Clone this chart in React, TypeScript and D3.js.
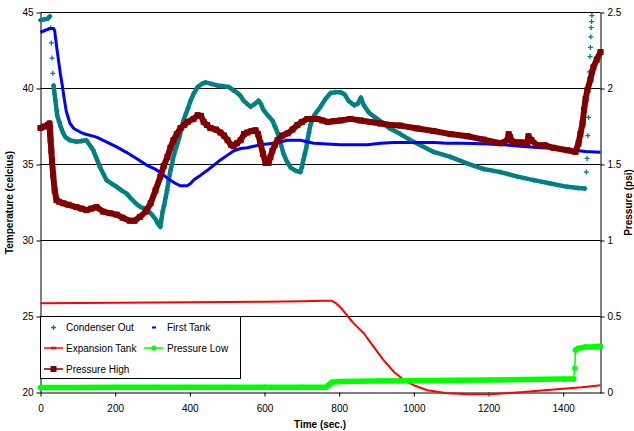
import { useEffect, useRef } from 'react';
import * as d3 from 'd3';

// Condenser Out (celcius) - teal crosses
const condenserTime = [
	0, 10, 20, 25, 27, 29, 31, 33, 35, 38, 40, 43, 45, 50, 54, 61, 67, 78, 96, 110, 123, 134, 141, 150, 159, 168, 177,
	190, 204, 217, 230, 243, 257, 268, 280, 295, 308, 315, 321, 324, 327, 331, 335, 339, 343, 348, 352, 357, 362, 367,
	372, 377, 383, 389, 395, 402, 411, 421, 432, 442, 458, 474, 490, 504, 516, 528, 536, 544, 553, 563, 575, 584, 590,
	597, 610, 621, 628, 635, 643, 651, 660, 670, 683, 696, 700, 704, 708, 712, 715, 719, 723, 735, 750, 763, 777, 790,
	804, 815, 825, 840, 850, 858, 866, 880, 907, 934, 964, 991, 1018, 1053, 1098, 1144, 1187, 1232, 1278, 1321, 1366,
	1411, 1440, 1458, 1462, 1464, 1466, 1468, 1470, 1472, 1473, 1474, 1475, 1476, 1477,
];
const condenserOut = [
	44.5, 44.55, 44.6, 44.75, 44.0, 43.0, 42.0, 41.0, 40.2, 39.6, 39.2, 38.6, 38.2, 37.8, 37.5, 37.05, 36.8, 36.6, 36.5,
	36.55, 36.6, 36.2, 35.95, 35.4, 34.85, 34.4, 33.97, 33.75, 33.53, 33.3, 33.1, 32.75, 32.4, 32.2, 32.1, 31.8, 31.4,
	31.1, 30.9, 31.4, 31.9, 32.3, 32.8, 33.3, 33.9, 34.6, 35.0, 35.6, 36.0, 36.4, 36.8, 37.3, 37.9, 38.3, 38.7, 39.2,
	39.7, 40.1, 40.3, 40.4, 40.3, 40.2, 40.15, 40.1, 39.9, 39.7, 39.5, 39.2, 39.0, 38.8, 39.0, 39.2, 39.0, 38.6, 38.2,
	37.9, 37.5, 37.1, 36.4, 35.7, 35.2, 34.8, 34.6, 34.5, 34.8, 35.3, 35.7, 36.1, 36.6, 37.1, 37.6, 38.3, 38.8, 39.3,
	39.7, 39.75, 39.75, 39.6, 39.2, 38.9, 39.0, 39.4, 38.9, 38.4, 37.9, 37.4, 37.0, 36.6, 36.27, 35.83, 35.5, 35.06, 34.7,
	34.5, 34.2, 33.97, 33.75, 33.53, 33.45, 33.42, 34.5, 35.4, 36.9, 38.1, 41.1, 42.1, 42.7, 43.4, 44.0, 44.4, 44.8,
];

// First Tank (celcius) - blue
const firstTankTime = [
	0, 10, 20, 27, 35, 38, 40, 44, 48, 53, 59, 63, 69, 79, 90, 114, 150, 175, 204, 230, 257, 284, 303, 320, 335, 348,
	362, 375, 393, 402, 411, 429, 446, 464, 482, 500, 518, 536, 554, 571, 589, 607, 625, 643, 661, 680, 696, 714, 732,
	768, 804, 840, 876, 911, 947, 983, 1018, 1054, 1089, 1125, 1161, 1197, 1241, 1286, 1330, 1375, 1411, 1460, 1500,
];
const firstTank = [
	43.7, 43.8, 43.9, 43.95, 43.95, 43.8, 43.4, 42.6, 41.9, 41.0, 40.1, 39.4, 38.5, 37.7, 37.35, 37.04, 36.8, 36.5, 36.16,
	35.8, 35.4, 34.96, 34.75, 34.5, 34.2, 33.97, 33.75, 33.6, 33.6, 33.75, 34.0, 34.3, 34.6, 34.95, 35.3, 35.6, 35.9,
	36.05, 36.1, 36.2, 36.3, 36.35, 36.4, 36.5, 36.6, 36.6, 36.6, 36.5, 36.4, 36.35, 36.3, 36.3, 36.3, 36.4, 36.45, 36.45,
	36.45, 36.45, 36.4, 36.4, 36.38, 36.35, 36.3, 36.2, 36.12, 36.05, 35.98, 35.85, 35.8,
];

// Expansion Tank (celcius) - red
const expansionTime = [
	0, 100, 200, 300, 400, 500, 600, 700, 760, 780, 790, 804, 821, 839, 866, 893, 920, 947, 974, 1000, 1036, 1089, 1152,
	1214, 1286, 1375, 1450, 1500,
];
const expansionTank = [
	25.87, 25.88, 25.9, 25.92, 25.93, 25.95, 25.97, 26.0, 26.03, 26.03, 25.9, 25.6, 25.08, 24.55, 23.9, 22.98, 22.1, 21.35,
	20.8, 20.48, 20.15, 19.95, 19.88, 19.9, 20.02, 20.2, 20.35, 20.48,
];

// Pressure Low (psi) - green
const lowTime = [
	0, 100, 200, 300, 400, 500, 600, 700, 765, 772, 780, 800, 900, 1000, 1100, 1200, 1300, 1400, 1428, 1431, 1433, 1440,
	1460, 1480, 1500,
];
const pressureLow = [
	0.033, 0.033, 0.034, 0.034, 0.034, 0.034, 0.035, 0.035, 0.035, 0.05, 0.068, 0.072, 0.076, 0.078, 0.08, 0.082, 0.085,
	0.088, 0.088, 0.16, 0.28, 0.29, 0.3, 0.3, 0.305,
];

// Pressure High (psi) - dark red squares
const highTime = [
	0, 10, 20, 24, 25, 26, 27, 29, 31, 34, 38, 43, 50, 61, 75, 96, 110, 123, 136, 150, 168, 185, 204, 220, 239, 252, 266,
	282, 295, 308, 321, 330, 340, 348, 356, 365, 375, 385, 394, 410, 421, 430, 437, 446, 455, 470, 482, 492, 501, 510,
	517, 526, 536, 545, 554, 565, 576, 583, 589, 596, 603, 611, 616, 621, 628, 635, 648, 662, 675, 688, 700, 715, 728,
	742, 755, 769, 786, 804, 830, 857, 884, 911, 938, 964, 1010, 1053, 1098, 1144, 1187, 1232, 1251, 1254, 1258, 1264,
	1290, 1304, 1307, 1315, 1331, 1350, 1374, 1411, 1433, 1441, 1446, 1452, 1456, 1460, 1465, 1473, 1481, 1490, 1500,
];
const pressureHigh = [
	1.74, 1.75, 1.76, 1.77, 1.74, 1.7, 1.66, 1.59, 1.52, 1.43, 1.33, 1.265, 1.255, 1.245, 1.235, 1.22, 1.21, 1.2, 1.21,
	1.22, 1.19, 1.18, 1.17, 1.15, 1.13, 1.13, 1.155, 1.19, 1.245, 1.33, 1.42, 1.49, 1.55, 1.61, 1.66, 1.7, 1.74, 1.76,
	1.78, 1.8, 1.825, 1.82, 1.78, 1.76, 1.74, 1.73, 1.71, 1.69, 1.66, 1.63, 1.62, 1.64, 1.66, 1.7, 1.71, 1.72, 1.725, 1.7,
	1.64, 1.57, 1.51, 1.51, 1.55, 1.59, 1.63, 1.66, 1.69, 1.705, 1.73, 1.76, 1.78, 1.8, 1.8, 1.8, 1.79, 1.78, 1.785, 1.79,
	1.8, 1.79, 1.78, 1.77, 1.76, 1.756, 1.737, 1.72, 1.7, 1.686, 1.664, 1.64, 1.66, 1.7, 1.68, 1.65, 1.645, 1.638, 1.686,
	1.66, 1.627, 1.627, 1.61, 1.594, 1.583, 1.638, 1.7, 1.77, 1.86, 1.93, 1.99, 2.06, 2.14, 2.19, 2.24,
];

const tempTicks = [20, 25, 30, 35, 40, 45];
const pressureTicks = [0, 0.5, 1, 1.5, 2, 2.5];
const timeTicks = [0, 200, 400, 600, 800, 1000, 1200, 1400];

const FONT = "'Liberation Sans', Arial, sans-serif";

type Pt = [number, number];

const App = () => {
	const ref = useRef<SVGSVGElement>(null);

	useEffect(() => {
		const width = 634,
			height = 431;
		const svg = d3.select(ref.current).attr('width', width).attr('height', height);
		svg.selectAll('*').remove();

		const x = d3.scaleLinear().domain([0, 1500]).range([40.5, 600.5]);
		const yT = d3.scaleLinear().domain([20, 45]).range([392.5, 12.5]);
		const yP = d3.scaleLinear().domain([0, 2.5]).range([392.5, 12.5]);

		// gridlines
		svg
			.append('g')
			.selectAll('line')
			.data(tempTicks.filter((d) => d > 20))
			.join('line')
			.attr('x1', x(0))
			.attr('x2', x(1500))
			.attr('y1', (d) => yT(d))
			.attr('y2', (d) => yT(d))
			.attr('stroke', '#000')
			.attr('stroke-width', 1);

		// axes
		const styleAxis = (g) => {
			g.selectAll('text').attr('font-family', FONT).attr('font-size', 10).attr('fill', '#000');
			g.selectAll('line').attr('stroke', '#000');
			g.select('.domain').attr('stroke', '#000');
		};
		svg
			.append('g')
			.attr('transform', `translate(${x(0)},0)`)
			.call(d3.axisLeft(yT).tickValues(tempTicks).tickSize(4).tickSizeOuter(0).tickPadding(3))
			.call(styleAxis);
		svg
			.append('g')
			.attr('transform', `translate(${x(1500)},0)`)
			.call(
				d3
					.axisRight(yP)
					.tickValues(pressureTicks)
					.tickFormat((d) => String(d))
					.tickSize(4)
					.tickSizeOuter(0)
					.tickPadding(3)
			)
			.call(styleAxis);
		svg
			.append('g')
			.attr('transform', `translate(0,${yT(20)})`)
			.call(
				d3
					.axisBottom(x)
					.tickValues(timeTicks)
					.tickFormat((d) => String(d))
					.tickSize(4)
					.tickSizeOuter(0)
					.tickPadding(8)
			)
			.call(styleAxis);

		// axis titles
		svg
			.append('text')
			.attr('transform', `translate(13,${(yT(20) + yT(45)) / 2}) rotate(-90)`)
			.attr('text-anchor', 'middle')
			.attr('font-family', FONT)
			.attr('font-size', 10)
			.attr('font-weight', 'bold')
			.text('Temperature  (celcius)');
		svg
			.append('text')
			.attr('transform', `translate(632,${(yT(20) + yT(45)) / 2}) rotate(-90)`)
			.attr('text-anchor', 'middle')
			.attr('font-family', FONT)
			.attr('font-size', 10)
			.attr('font-weight', 'bold')
			.text('Pressure (psi)');
		svg
			.append('text')
			.attr('x', 320)
			.attr('y', 428)
			.attr('text-anchor', 'middle')
			.attr('font-family', FONT)
			.attr('font-size', 10)
			.attr('font-weight', 'bold')
			.text('Time (sec.)');

		// split a series into runs, breaking where the value jumps steeply (markers stand apart there)
		const runs = (pts: Pt[], maxStep: number, maxSlope: number) => {
			const out: Pt[][] = [];
			let cur: Pt[] = [pts[0]];
			for (let i = 1; i < pts.length; i++) {
				const dy = Math.abs(pts[i][1] - pts[i - 1][1]);
				const dx = Math.max(Math.abs(pts[i][0] - pts[i - 1][0]), 0.1);
				if (dy <= maxStep && (dy < 4 || dy / dx <= maxSlope)) cur.push(pts[i]);
				else {
					out.push(cur);
					cur = [pts[i]];
				}
			}
			out.push(cur);
			return out.filter((r) => r.length > 1);
		};
		const line = d3.line<Pt>();

		const drawBand = (pts: Pt[], color: string, w: number, maxStep: number, maxSlope: number) => {
			svg
				.append('g')
				.selectAll('path')
				.data(runs(pts, maxStep, maxSlope))
				.join('path')
				.attr('d', (r) => line(r))
				.attr('fill', 'none')
				.attr('stroke', color)
				.attr('stroke-width', w)
				.attr('stroke-linejoin', 'round')
				.attr('stroke-linecap', 'round');
		};

		// Condenser Out
		const condPts: Pt[] = condenserTime.map((t, i) => [x(t), yT(condenserOut[i])]);
		drawBand(condPts, '#008080', 4.5, 11, 10);
		svg
			.append('g')
			.selectAll('path')
			.data(condPts)
			.join('path')
			.attr('d', ([px, py]) => `M${px - 2.5},${py}H${px + 2.5}M${px},${py - 2.5}V${py + 2.5}`)
			.attr('stroke', '#008080')
			.attr('stroke-width', 1.3);

		// First Tank
		svg
			.append('path')
			.attr('d', line(firstTankTime.map((t, i) => [x(t), yT(firstTank[i])])))
			.attr('fill', 'none')
			.attr('stroke', '#0000ff')
			.attr('stroke-width', 3)
			.attr('stroke-linejoin', 'round');

		// Expansion Tank
		svg
			.append('path')
			.attr('d', line(expansionTime.map((t, i) => [x(t), yT(expansionTank[i])])))
			.attr('fill', 'none')
			.attr('stroke', '#ff0000')
			.attr('stroke-width', 2)
			.attr('stroke-linejoin', 'round');

		// Pressure Low
		const lowPts: Pt[] = lowTime.map((t, i) => [x(t), yP(pressureLow[i])]);
		svg
			.append('path')
			.attr('d', line(lowPts))
			.attr('fill', 'none')
			.attr('stroke', '#00ff00')
			.attr('stroke-width', 1.5);
		drawBand(lowPts, '#00ff00', 5.5, 6, 10);
		svg
			.append('g')
			.selectAll('circle')
			.data(lowPts)
			.join('circle')
			.attr('cx', (d) => d[0])
			.attr('cy', (d) => d[1])
			.attr('r', 2.6)
			.attr('fill', '#00ff00');

		// Pressure High
		const highPts: Pt[] = highTime.map((t, i) => [x(t), yP(pressureHigh[i])]);
		drawBand(highPts, '#800000', 6, 40, 1000);
		svg
			.append('g')
			.selectAll('rect')
			.data(highPts)
			.join('rect')
			.attr('x', (d) => d[0] - 3)
			.attr('y', (d) => d[1] - 3)
			.attr('width', 6)
			.attr('height', 6)
			.attr('fill', '#800000');

		// legend
		const lg = svg.append('g').attr('font-family', FONT).attr('font-size', 10);
		lg.append('rect')
			.attr('x', 40.5)
			.attr('y', 316.5)
			.attr('width', 200)
			.attr('height', 62)
			.attr('fill', '#fff')
			.attr('stroke', '#000');
		const item = (lx: number, ly: number, label: string) =>
			lg
				.append('text')
				.attr('x', lx + 22)
				.attr('y', ly)
				.attr('dy', '0.35em')
				.text(label);
		// Condenser Out
		lg.append('path')
			.attr('d', 'M51,327.5H56M53.5,325V330')
			.attr('stroke', '#008080')
			.attr('stroke-width', 1.3);
		item(44, 327.5, 'Condenser Out');
		// First Tank
		lg.append('line')
			.attr('x1', 152)
			.attr('x2', 156)
			.attr('y1', 327.5)
			.attr('y2', 327.5)
			.attr('stroke', '#0000ff')
			.attr('stroke-width', 2);
		item(145, 327.5, 'First Tank');
		// Expansion Tank
		lg.append('line')
			.attr('x1', 44)
			.attr('x2', 63)
			.attr('y1', 348)
			.attr('y2', 348)
			.attr('stroke', '#ff0000')
			.attr('stroke-width', 1.5);
		lg.append('line')
			.attr('x1', 51)
			.attr('x2', 56)
			.attr('y1', 348)
			.attr('y2', 348)
			.attr('stroke', '#ff0000')
			.attr('stroke-width', 2.5);
		item(44, 348, 'Expansion Tank');
		// Pressure Low
		lg.append('line')
			.attr('x1', 144)
			.attr('x2', 163)
			.attr('y1', 348)
			.attr('y2', 348)
			.attr('stroke', '#00ff00')
			.attr('stroke-width', 1.5);
		lg.append('circle').attr('cx', 154).attr('cy', 348).attr('r', 2.6).attr('fill', '#00ff00');
		item(145, 348, 'Pressure Low');
		// Pressure High
		lg.append('line')
			.attr('x1', 44)
			.attr('x2', 63)
			.attr('y1', 369)
			.attr('y2', 369)
			.attr('stroke', '#800000')
			.attr('stroke-width', 1.5);
		lg.append('rect').attr('x', 50.5).attr('y', 366).attr('width', 6).attr('height', 6).attr('fill', '#800000');
		item(44, 369, 'Pressure High');
	}, []);

	return <svg ref={ref} style={{ position: 'absolute', left: 0, top: 0 }} />;
};

export default App;
